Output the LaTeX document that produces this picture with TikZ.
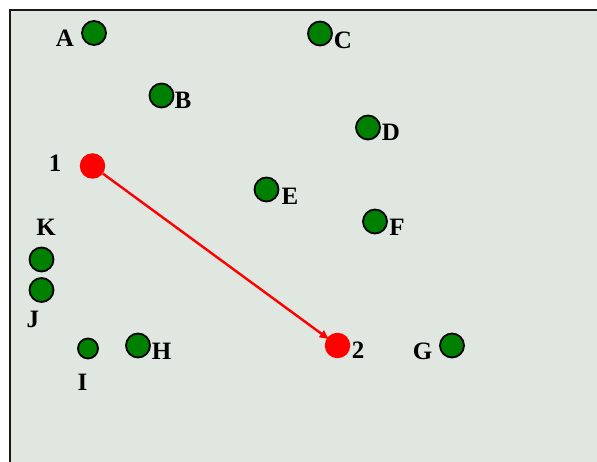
\documentclass[tikz,border=0pt]{standalone}
\usepackage{fontspec}
\setmainfont{Liberation Serif}
\usetikzlibrary{arrows.meta}
\definecolor{bgpanel}{RGB}{223,231,224}
\definecolor{dotgreen}{RGB}{0,128,0}
\tikzset{
  gdot/.style={circle,draw=black,line width=1.8pt,fill=dotgreen,minimum size=24pt,inner sep=0pt},
  gsmall/.style={gdot,minimum size=20pt},
  rdot/.style={circle,fill=red,draw=none,minimum size=25.5pt,inner sep=0pt},
  lab/.style={inner sep=0pt,anchor=center,font=\fontsize{25}{28}\selectfont\bfseries},
  link/.style={red,line width=2.4pt,-{Triangle[length=9pt,width=8pt]},shorten >=-2pt}
}
\begin{document}
\begin{tikzpicture}[x=1pt,y=-1pt]
\useasboundingbox (0,0) rectangle (597,462);
\fill[white] (0,0) rectangle (597,462);
\draw[fill=bgpanel,line width=2.6pt,draw=black!90] (10,10) rectangle (610,475);
% green dots
\node[gdot] (A) at (94,33) {};
\node[gdot] (C) at (320,33.5) {};
\node[gdot] (B) at (161.5,95.5) {};
\node[gdot] (D) at (368,127.5) {};
\node[gdot] (E) at (266.5,189.5) {};
\node[gdot] (F) at (375,221.5) {};
\node[gdot] (K) at (41.5,259.5) {};
\node[gdot] (J) at (41.5,290) {};
\node[gsmall] (I) at (88,348.5) {};
\node[gdot] (H) at (138,345.5) {};
\node[gdot] (G) at (452,345.5) {};
% red dots
\node[rdot] (p1) at (92.5,166) {};
\node[rdot] (p2) at (337.5,345.5) {};
% labels
\node[lab] (lA) at (65,38) {A};
\node[lab] (lC) at (343,40) {C};
\node[lab] (lB) at (183,100) {B};
\node[lab] (lD) at (391,132) {D};
\node[lab] (lE) at (290,196) {E};
\node[lab] (lF) at (397,227) {F};
\node[lab] (l1) at (55,163) {1};
\node[lab] (lK) at (46,227.5) {K};
\node[lab] (lJ) at (33,319) {J};
\node[lab] (lI) at (82.5,382.5) {I};
\node[lab] (lH) at (161.5,351) {H};
\node[lab] (l2) at (358,350.5) {2};
\node[lab] (lG) at (422.5,351.5) {G};
% connector
\draw[link] (p1) -- (p2);
\end{tikzpicture}
\end{document}
